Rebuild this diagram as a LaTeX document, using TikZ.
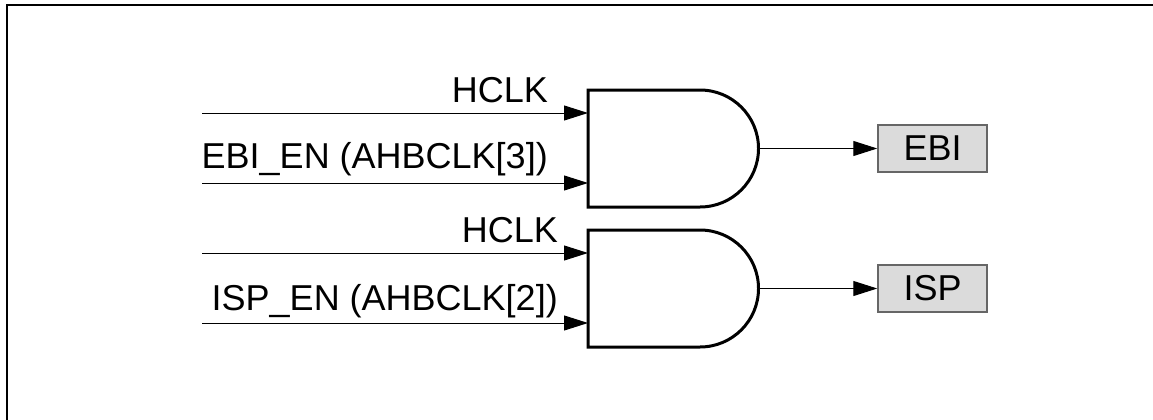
\documentclass[tikz,border=0pt]{standalone}
\usepackage{fontspec}
\setmainfont{Liberation Sans}
\usetikzlibrary{arrows.meta}

\begin{document}
\begin{tikzpicture}[x=1pt,y=-1pt,font=\fontsize{36}{43}\selectfont]
		\tikzset{> = {Triangle[length=24pt,width=15pt]}}
		\tikzset{gate/.style = {line width=3pt, line join=miter}}
		\tikzset{wire/.style = {line width=1pt}}
		\tikzset{outbox/.style = {draw=black!60, fill=black!14, line width=1.5pt, minimum width=109pt, minimum height=47pt, inner sep=0pt}}
		\useasboundingbox (0,0) rectangle (1153,420);
		\draw[line width=2pt] (7,421) -- (7,5) -- (1154,5);
		% first gate
		\draw[gate] (588,90) -- (700,90) arc[start angle=-90, end angle=90, radius=58.5] -- (588,207) -- cycle;
		\coordinate (A1) at (588,113);
		\coordinate (B1) at (588,183);
		\coordinate (Y1) at (758.5,148.5);
		\coordinate (A1in) at (202,113);
		\coordinate (B1in) at (202,183);
		\node[anchor=base east, inner sep=0pt] (hclkA) at (548,102){HCLK};
		\node[anchor=base east, inner sep=0pt] (ebien) at (548,168){EBI\_EN (AHBCLK[3])};
		\node[outbox] (EBI) at (932.5,148.5){EBI};
		\draw[wire,->] (A1in) -- (A1);
		\draw[wire,->] (B1in) -- (B1);
		\draw[wire,->] (Y1) -- (EBI.west);
		% second gate
		\draw[gate] (588,230) -- (700,230) arc[start angle=-90, end angle=90, radius=58.5] -- (588,347) -- cycle;
		\coordinate (A2) at (588,253);
		\coordinate (B2) at (588,323);
		\coordinate (Y2) at (758.5,288.5);
		\coordinate (A2in) at (202,253);
		\coordinate (B2in) at (202,323);
		\node[anchor=base east, inner sep=0pt] (hclkB) at (558,242){HCLK};
		\node[anchor=base east, inner sep=0pt] (ispen) at (558,310){ISP\_EN (AHBCLK[2])};
		\node[outbox] (ISP) at (932.5,288.5){ISP};
		\draw[wire,->] (A2in) -- (A2);
		\draw[wire,->] (B2in) -- (B2);
		\draw[wire,->] (Y2) -- (ISP.west);
	\end{tikzpicture}
\end{document}
